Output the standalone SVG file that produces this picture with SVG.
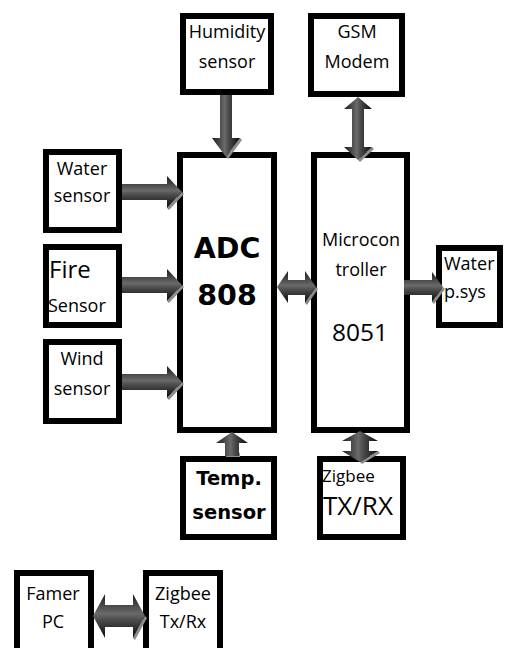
<svg xmlns="http://www.w3.org/2000/svg" width="508" height="648" viewBox="0 0 508 648">
<defs>
<linearGradient id="gh" x1="0" y1="0" x2="0" y2="1">
<stop offset="0" stop-color="#1a1a1a"/>
<stop offset="0.45" stop-color="#6a6a6a"/>
<stop offset="0.6" stop-color="#4a4a4a"/>
<stop offset="1" stop-color="#0a0a0a"/>
</linearGradient>
<linearGradient id="gv" x1="0" y1="0" x2="1" y2="0">
<stop offset="0" stop-color="#1a1a1a"/>
<stop offset="0.45" stop-color="#6a6a6a"/>
<stop offset="0.6" stop-color="#4a4a4a"/>
<stop offset="1" stop-color="#0a0a0a"/>
</linearGradient>
<style>
.box{fill:#fff;stroke:#000;stroke-width:6}
.t{font-family:"Open Sans","Liberation Sans",sans-serif;font-size:18px;fill:#000;text-anchor:middle}
.l{text-anchor:start}
.b{font-family:"DejaVu Sans","Liberation Sans",sans-serif;font-weight:bold;fill:#000;text-anchor:middle}
.ah{fill:url(#gh)}
.av{fill:url(#gv)}
.sh{fill:#8c8c8c}
</style>
</defs>

<g id="humidity"><rect class="box" x="183" y="16" width="88" height="76"/><text class="t" x="227" y="38">Humidity</text><text class="t" x="227" y="68">sensor</text></g>
<g id="gsm"><rect class="box" x="311" y="16" width="91" height="78"/><text class="t" x="357" y="38">GSM</text><text class="t" x="357" y="68">Modem</text></g>
<g id="water-sensor"><rect class="box" x="46" y="152" width="73" height="78"/><text class="t" x="82" y="175">Water</text><text class="t" x="82" y="202">sensor</text></g>
<g id="fire-sensor"><rect class="box" x="46" y="247" width="73" height="78"/><text class="t l" x="49" y="278" style="font-size:24px">Fire</text><text class="t l" x="48" y="312">Sensor</text></g>
<g id="wind-sensor"><rect class="box" x="46" y="342" width="73" height="79"/><text class="t" x="82" y="365">Wind</text><text class="t" x="82" y="395">sensor</text></g>
<g id="adc"><rect class="box" x="180" y="155" width="94" height="275"/><text class="b" x="227" y="258" style="font-size:28.5px">ADC</text><text class="b" x="227" y="305" style="font-size:28.5px">808</text></g>
<g id="micro"><rect class="box" x="314" y="155" width="93" height="275"/><text class="t" x="361" y="246">Microcon</text><text class="t" x="361" y="276">troller</text><text class="t" x="360" y="341" style="font-size:24.5px">8051</text></g>
<g id="water-psys"><rect class="box" x="439" y="248" width="61" height="77"/><text class="t l" x="444" y="270">Water</text><text class="t l" x="444" y="298">p.sys</text></g>
<g id="temp"><rect class="box" x="183" y="459" width="91" height="78"/><text class="b" x="229" y="485" style="font-size:19.5px">Temp.</text><text class="b" x="229" y="519" style="font-size:19.5px">sensor</text></g>
<g id="zigbee"><rect class="box" x="320" y="459" width="83" height="78"/><text class="t l" x="322" y="482" style="font-size:17px">Zigbee</text><text class="t l" x="323" y="515" style="font-size:26px">TX/RX</text></g>
<g id="famer-pc"><rect class="box" x="17" y="573" width="74" height="100"/><text class="t" x="53" y="600">Famer</text><text class="t" x="53" y="628">PC</text></g>
<g id="zigbee-txrx"><rect class="box" x="146" y="573" width="74" height="100"/><text class="t" x="183" y="600">Zigbee</text><text class="t" x="183" y="628">Tx/Rx</text></g>

<g id="connectors">
<!-- water sensor -> ADC -->
<polygon class="sh" points="182,192 184,194 169,210 167,208"/>
<polygon class="ah" points="122,184 167,184 167,176 182,192 167,208 167,200 122,200"/>
<!-- fire -> ADC -->
<polygon class="sh" points="182,285 184,287 169,303 167,301"/>
<polygon class="ah" points="122,277 167,277 167,269 182,285 167,301 167,293 122,293"/>
<!-- wind -> ADC -->
<polygon class="sh" points="182,382 184,384 169,400 167,398"/>
<polygon class="ah" points="122,374 167,374 167,366 182,382 167,398 167,390 122,390"/>
<!-- humidity -> ADC -->
<polygon class="sh" points="226,157 228,159 242,140 240,138"/>
<polygon class="av" points="220,95 232,95 232,138 240,138 226,157 212,138 220,138"/>
<!-- GSM <-> micro -->
<polygon class="sh" points="358,160 360,162 374,149 372,147"/>
<polygon class="av" points="352,109 352,147 344,147 358,160 372,147 364,147 364,109 372,109 358,97 344,109"/>
<!-- ADC <-> micro -->
<polygon class="sh" points="316,287 318,289 307,305 305,303"/>
<polygon class="ah" points="277,287 288,271 288,280 305,280 305,271 316,287 305,303 305,295 288,295 288,303"/>
<!-- micro -> water p.sys -->
<polygon class="sh" points="443,287 445,289 434,304 432,302"/>
<polygon class="ah" points="404,280 432,280 432,272 443,287 432,302 432,295 404,295"/>
<!-- temp -> ADC -->
<polygon class="sh" points="226,453 240,453 240,457 226,457"/>
<polygon class="av" points="225,456 225,443 216,443 232,432 248,443 239,443 239,456"/>
<!-- zigbee <-> micro -->
<polygon class="sh" points="360,462 362,464 380,453 378,451"/>
<polygon class="av" points="351,441 342,441 360,431 378,441 369,441 369,451 378,451 360,462 342,451 351,451"/>
<!-- famer <-> zigbee -->
<polygon class="sh" points="145,616 147,618 135,640 133,638"/>
<polygon class="ah" points="93,616 105,594 105,605 133,605 133,594 145,616 133,638 133,627 105,627 105,638"/>
</g>
</svg>
